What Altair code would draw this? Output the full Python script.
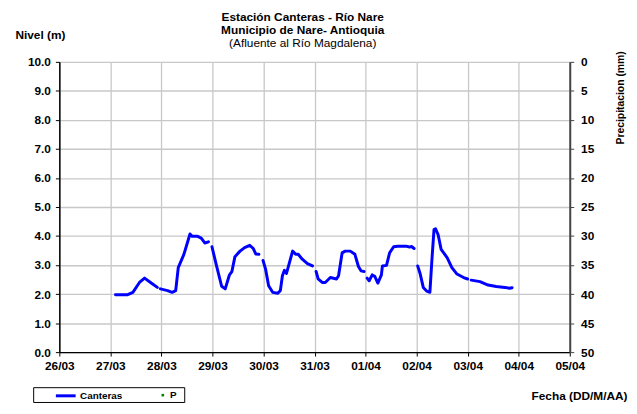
import altair as alt

FONT = "Liberation Sans"

# ---- data ----
fecha = [
    "2011-03-27T02:24Z", "2011-03-27T08:10Z", "2011-03-27T10:34Z", "2011-03-27T13:40Z",
    "2011-03-27T16:05Z", "2011-03-27T19:12Z", "2011-03-27T22:05Z",
    "2011-03-27T23:30Z", "2011-03-28T02:53Z", "2011-03-28T05:02Z", "2011-03-28T06:43Z",
    "2011-03-28T07:55Z", "2011-03-28T10:34Z", "2011-03-28T13:26Z", "2011-03-28T14:24Z",
    "2011-03-28T17:02Z", "2011-03-28T18:43Z", "2011-03-28T20:24Z", "2011-03-28T22:05Z",
    "2011-03-28T23:46Z", "2011-03-29T01:55Z", "2011-03-29T04:19Z", "2011-03-29T06:00Z",
    "2011-03-29T07:55Z", "2011-03-29T09:07Z", "2011-03-29T10:34Z", "2011-03-29T12:58Z",
    "2011-03-29T15:07Z", "2011-03-29T17:31Z", "2011-03-29T19:12Z", "2011-03-29T20:24Z",
    "2011-03-29T21:50Z",
    "2011-03-29T23:46Z", "2011-03-30T00:58Z", "2011-03-30T02:24Z", "2011-03-30T04:19Z",
    "2011-03-30T06:43Z", "2011-03-30T07:55Z", "2011-03-30T08:53Z", "2011-03-30T09:50Z",
    "2011-03-30T10:48Z", "2011-03-30T12:00Z", "2011-03-30T13:41Z", "2011-03-30T15:07Z",
    "2011-03-30T16:19Z", "2011-03-30T18:14Z", "2011-03-30T20:38Z", "2011-03-30T23:02Z",
    "2011-03-31T00:43Z", "2011-03-31T01:41Z", "2011-03-31T03:36Z", "2011-03-31T05:02Z",
    "2011-03-31T07:26Z", "2011-03-31T10:19Z", "2011-03-31T11:17Z", "2011-03-31T12:58Z",
    "2011-03-31T14:24Z", "2011-03-31T16:48Z", "2011-03-31T18:58Z", "2011-03-31T20:38Z",
    "2011-03-31T21:50Z", "2011-03-31T23:17Z",
    "2011-04-01T00:43Z", "2011-04-01T01:41Z", "2011-04-01T03:07Z", "2011-04-01T04:19Z",
    "2011-04-01T05:46Z", "2011-04-01T07:26Z", "2011-04-01T07:55Z", "2011-04-01T09:50Z",
    "2011-04-01T11:17Z", "2011-04-01T13:12Z", "2011-04-01T15:07Z", "2011-04-01T18:58Z",
    "2011-04-01T20:38Z", "2011-04-01T21:36Z", "2011-04-01T22:48Z",
    "2011-04-02T00:29Z", "2011-04-02T01:41Z", "2011-04-02T03:07Z", "2011-04-02T04:48Z",
    "2011-04-02T06:14Z", "2011-04-02T07:12Z", "2011-04-02T08:10Z", "2011-04-02T08:53Z",
    "2011-04-02T10:05Z", "2011-04-02T11:31Z", "2011-04-02T14:24Z", "2011-04-02T16:34Z",
    "2011-04-02T18:58Z", "2011-04-02T22:05Z", "2011-04-03T00:00Z",
    "2011-04-03T01:41Z", "2011-04-03T05:46Z", "2011-04-03T09:36Z", "2011-04-03T13:26Z",
    "2011-04-03T17:31Z", "2011-04-03T19:41Z", "2011-04-03T20:53Z",
]
nivel = [
    1.98, 1.98, 2.06, 2.40, 2.55, 2.38, 2.23,
    2.18, 2.12, 2.06, 2.12, 2.91, 3.37, 4.07, 3.99, 3.99, 3.93, 3.76, 3.80,
    3.63, 2.97, 2.27, 2.18, 2.65, 2.77, 3.29, 3.48, 3.60, 3.68, 3.57, 3.38, 3.37,
    3.16, 2.86, 2.29, 2.06, 2.03, 2.12, 2.63, 2.82, 2.71, 3.03, 3.48, 3.37, 3.37, 3.20, 3.05, 2.97,
    2.78, 2.52, 2.40, 2.40, 2.57, 2.52, 2.63, 3.42, 3.48, 3.48, 3.37, 2.95, 2.80, 2.78,
    2.55, 2.46, 2.66, 2.61, 2.38, 2.66, 2.97, 2.99, 3.42, 3.63, 3.65, 3.65, 3.62, 3.64, 3.57,
    2.97, 2.69, 2.23, 2.10, 2.06, 3.20, 4.22, 4.25, 4.05, 3.54, 3.25, 2.91, 2.69, 2.57, 2.52,
    2.48, 2.43, 2.31, 2.26, 2.23, 2.20, 2.22,
]
tramo = (
    [1] * 7 + [2] * 12 + [3] * 13 + [4] * 16 + [5] * 14 + [6] * 15 + [7] * 15 + [8] * 7
)

# precipitation series "P" (no values visible in the picture)
p_fecha = []
p_mm = []

series = ["Canteras", "P"]
series_fill = ["#0000ff", "#008000"]
series_stroke = ["#0000ff", "transparent"]
series_shape = ["M-1,0H1", "M0.6,-0.13H0.86V0.13H0.6Z"]

dias = [(3, 26), (3, 27), (3, 28), (3, 29), (3, 30), (3, 31),
        (4, 1), (4, 2), (4, 3), (4, 4), (4, 5)]
nivel_ticks = [0, 1, 2, 3, 4, 5, 6, 7, 8, 9, 10]
precip_ticks = [0, 5, 10, 15, 20, 25, 30, 35, 40, 45, 50]

# ---- build ----
def dt(m, d):
    return alt.DateTime(year=2011, month=m, date=d, utc=True)

nivel_rows = [{"fecha": f, "nivel": n, "tramo": t} for f, n, t in zip(fecha, nivel, tramo)]
p_rows = [{"fecha": f, "mm": v, "serie": "P"} for f, v in zip(p_fecha, p_mm)]

x_enc = alt.X(
    "fecha:T",
    scale=alt.Scale(type="utc", domain=[dt(*dias[0]), dt(*dias[-1])]),
    axis=alt.Axis(
        values=[dt(m, d) for m, d in dias],
        labelExpr="utcFormat(datum.value, '%d/%m')",
        title="Fecha (DD/M/AA)",
        titleX=575, titleY=48, titleAlign="right", titleBaseline="alphabetic",
        titleAngle=0,
        grid=True, gridColor="#c8c8c8", gridWidth=1.3,
        domainColor="#000000", domainWidth=1.5,
        tickColor="#000000", tickSize=4, tickWidth=1,
        labelPadding=5, labelFlush=False, labelOverlap=False,
    ),
)

legend = alt.Legend(
    orient="none", legendX=-5, legendY=326, direction="horizontal", title=None,
    labelFont=FONT, labelFontSize=10, labelFontWeight="bold", labelColor="#000000",
    labelOffset=3, symbolSize=400, symbolStrokeWidth=3, symbolOpacity=1,
    columnPadding=22, padding=0,
)

line = alt.Chart(alt.Data(values=nivel_rows)).mark_line(
    color="#0000ff", strokeWidth=3, strokeCap="round", strokeJoin="round"
).encode(
    x=x_enc,
    y=alt.Y(
        "nivel:Q",
        scale=alt.Scale(domain=[0, 10], nice=False, zero=True),
        axis=alt.Axis(
            orient="left", values=nivel_ticks, format=".1f",
            title="Nivel (m)", titleAngle=0, titleX=-45, titleY=-24,
            titleAlign="left", titleBaseline="alphabetic",
            grid=True, gridColor="#c8c8c8", gridWidth=1.3,
            domainColor="#000000", domainWidth=1.5,
            tickColor="#000000", tickSize=4, labelPadding=5,
        ),
    ),
    detail="tramo:N",
)

box = alt.Chart(alt.Data(values=[{"k": 0}])).mark_rect(
    fill="white", stroke="#000000", strokeWidth=1
).encode(
    x=alt.value(-26), x2=alt.value(127), y=alt.value(330), y2=alt.value(345)
)

puntos = alt.Chart(alt.Data(values=p_rows)).mark_point(
    filled=True, opacity=1, strokeWidth=3
).encode(
    x=x_enc,
    y=alt.Y(
        "mm:Q",
        scale=alt.Scale(domain=[0, 50], reverse=True, nice=False),
        axis=alt.Axis(
            orient="right", values=precip_ticks, format="d",
            title="Precipitacion (mm)", titleAngle=270, titleX=51, titleY=36,
            titleAlign="center", titleBaseline="middle", titleFontSize=10.5,
            grid=False, domainColor="#444444", domainWidth=2,
            tickColor="#444444", tickSize=4, labelPadding=7,
        ),
    ),
    fill=alt.Fill("serie:N", scale=alt.Scale(domain=series, range=series_fill), legend=legend),
    stroke=alt.Stroke("serie:N", scale=alt.Scale(domain=series, range=series_stroke), legend=legend),
    shape=alt.Shape("serie:N", scale=alt.Scale(domain=series, range=series_shape), legend=legend),
)

chart = alt.layer(box, line, puntos).resolve_scale(y="independent").properties(
    width=517,
    height=294,
    autosize=alt.AutoSizeParams(type="none"),
    padding={"left": 52, "top": 52, "right": 60, "bottom": 52},
    background="white",
    title=alt.Title(
        text=["Estación Canteras - Río Nare", "Municipio de Nare- Antioquia"],
        subtitle="(Afluente al Río Magdalena)",
        font=FONT, fontSize=12, fontWeight="bold", color="#000000", lineHeight=13,
        subtitleFont=FONT, subtitleFontSize=12, subtitleFontWeight="normal",
        subtitleColor="#000000", subtitlePadding=1, subtitleLineHeight=13,
        anchor="middle", frame="group", dx=-12, dy=22, offset=0,
    ),
).configure_view(stroke="transparent").configure_axis(
    labelFont=FONT, labelFontSize=12, labelFontWeight="bold", labelColor="#000000",
    titleFont=FONT, titleFontSize=12, titleFontWeight="bold", titleColor="#000000",
)

chart.save("out.html", embed_options={"renderer": "svg", "actions": False})
